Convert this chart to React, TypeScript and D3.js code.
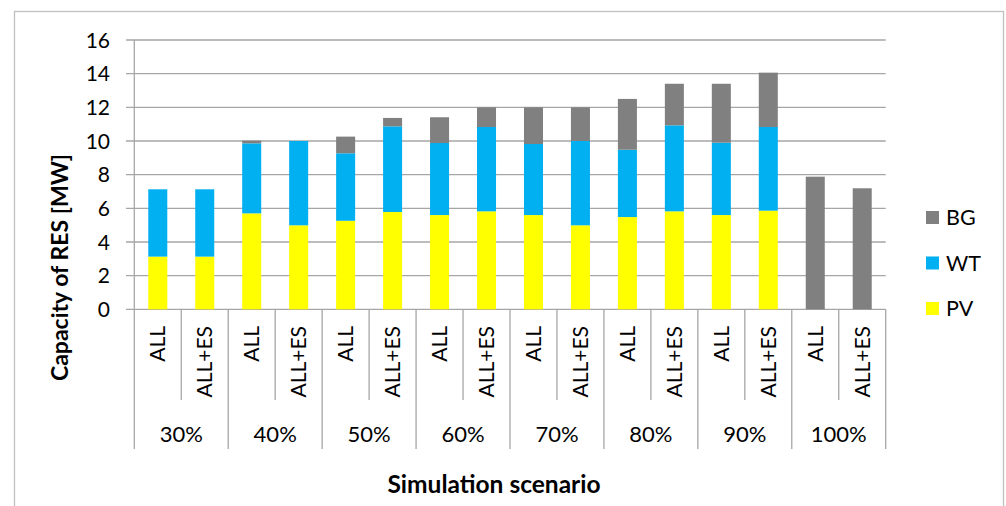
import React from "react";
import * as d3 from "d3";

const groups = ["30%", "40%", "50%", "60%", "70%", "80%", "90%", "100%"];
const scenarios = ["ALL", "ALL+ES"];
const pv = [3.13, 3.13, 5.70, 4.99, 5.26, 5.78, 5.60, 5.82, 5.60, 4.99, 5.48, 5.82, 5.60, 5.86, 0, 0];
const wt = [4.0, 4.0, 4.16, 5.01, 4.01, 5.09, 4.28, 5.01, 4.22, 5.01, 4.0, 5.11, 4.30, 4.97, 0, 0];
const bg = [0, 0, 0.16, 0, 0.99, 0.50, 1.53, 1.17, 2.18, 2.0, 3.02, 2.47, 3.5, 3.23, 7.88, 7.19];
const yTicks = [0, 2, 4, 6, 8, 10, 12, 14, 16];
const seriesNames = ["PV", "WT", "BG"];
const colors: Record<string, string> = { PV: "#FFFF00", WT: "#00B0F0", BG: "#808080" };

const W = 1006, H = 506;
const left = 134.3, right = 885.7, top = 40, bottom = 309.3;
const FONT = "Lato, 'Open Sans', sans-serif";

export default function App() {
  const cats = groups.flatMap((g) => scenarios.map((s) => `${g}|${s}`));
  const rows = cats.map((c, i) => ({ key: c, PV: pv[i], WT: wt[i], BG: bg[i] }));
  const x = d3.scaleBand<string>().domain(cats).range([left, right]).padding(0);
  const y = d3.scaleLinear().domain([0, 16]).range([bottom, top]);
  const stack = d3.stack<any>().keys(seriesNames)(rows);
  const step = x.step();
  const bw = step * 0.405;
  const grid = "#a6a6a6";

  return (
    <svg width={W} height={H} style={{ position: "absolute", left: 0, top: 0, fontFamily: FONT }}>
      <rect x={0} y={0} width={W} height={H} fill="#fff" />
      <rect x={14.5} y={11.5} width={989} height={520} fill="none" stroke="#bfbfbf" strokeWidth={1.3} />
      {yTicks.map((t) => (
        <g key={t}>
          <line x1={126} x2={right} y1={y(t)} y2={y(t)} stroke={grid} strokeWidth={1.3} />
          <text x={110} y={y(t)} dy="0.36em" textAnchor="end" fontSize={21} fill="#000">{t}</text>
        </g>
      ))}
      <line x1={left} x2={left} y1={top} y2={bottom} stroke={grid} strokeWidth={1.3} />
      {stack.map((s) =>
        s.map((d, i) => {
          const v = d[1] - d[0];
          if (v <= 0) return null;
          const cx = (x(cats[i]) as number) + step / 2;
          return (
            <rect key={s.key + i} x={cx - bw / 2} width={bw} y={y(d[1])} height={y(d[0]) - y(d[1])} fill={colors[s.key]} />
          );
        })
      )}
      {cats.map((c, i) => {
        const x0 = x(c) as number;
        const isGroupStart = i % 2 === 0;
        return (
          <line key={"sep" + i} x1={x0} x2={x0} y1={bottom} y2={isGroupStart ? 449 : 400} stroke={grid} strokeWidth={1.3} />
        );
      })}
      <line x1={right} x2={right} y1={bottom} y2={449} stroke={grid} strokeWidth={1.3} />
      {cats.map((c, i) => {
        const cx = (x(c) as number) + step / 2;
        const label = c.split("|")[1];
        return (
          <text key={"lab" + i} transform={`translate(${cx + 7.5},326) rotate(-90)`} textAnchor="end" fontSize={21} fill="#000">
            {label}
          </text>
        );
      })}
      {groups.map((g, gi) => {
        const x0 = x(cats[gi * 2]) as number;
        const cx = x0 + step;
        return (
          <text key={g} x={cx} y={441.5} textAnchor="middle" fontSize={22} fill="#000">{g}</text>
        );
      })}
      <text x={494} y={492.5} textAnchor="middle" fontSize={24.5} fontWeight="bold" fill="#000">Simulation scenario</text>
      <text transform="translate(67.5,267.5) rotate(-90)" textAnchor="middle" fontSize={23} fontWeight="bold" fill="#000">
        Capacity of RES [MW]
      </text>
      {["BG", "WT", "PV"].map((k, i) => (
        <g key={k}>
          <rect x={926} y={211 + i * 45.5} width={13} height={13} fill={colors[k]} />
          <text x={946} y={225 + i * 45.5} fontSize={21.5} fill="#000">{k}</text>
        </g>
      ))}
    </svg>
  );
}
